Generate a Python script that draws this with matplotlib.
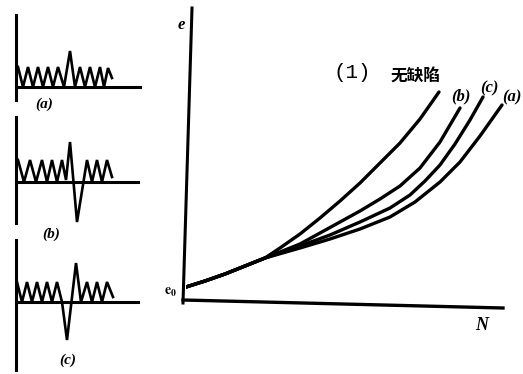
import numpy as np
import matplotlib
matplotlib.use("Agg")
import matplotlib.pyplot as plt

plt.rcParams['font.family'] = ['Liberation Serif', 'DejaVu Sans']
plt.rcParams['mathtext.fontset'] = 'stix'

# main chart: e versus N, four growth curves from a shared start e0
common_n = [0.0, 1.9, 3.9, 5.9, 7.9]
common_e = [1.3, 1.9, 2.6, 3.4, 4.2]

perfect_n = [9.4, 11.4, 13.4, 15.4, 17.4, 19.4, 21.4, 23.4, 25.3]
perfect_e = [5.2, 6.6, 8.2, 9.9, 11.7, 13.7, 15.7, 18.1, 20.8]

b_n = [11.4, 13.4, 15.4, 17.4, 19.4, 21.4, 23.4, 25.4, 27.4]
b_e = [5.6, 6.7, 7.8, 8.9, 10.1, 11.4, 13.2, 15.8, 19.2]

c_n = [11.4, 14.4, 17.4, 20.4, 22.4, 23.9, 25.4, 26.9, 28.4, 29.7]
c_e = [5.4, 6.5, 7.8, 9.2, 10.5, 11.9, 13.5, 15.6, 18.0, 20.3]

a_n = [11.4, 14.4, 17.4, 20.4, 22.9, 25.4, 27.4, 29.4, 31.6]
a_e = [5.2, 6.1, 7.1, 8.3, 9.8, 11.8, 13.8, 16.4, 19.5]

curve_labels = ["无缺陷", "(b)", "(c)", "(a)"]

# left panels: potential profiles along the chain
pa_x = [0.2, 0.7, 1.2, 1.7, 2.2, 2.7, 3.2, 3.7, 4.2, 4.8, 5.4, 5.9, 6.4, 6.9, 7.4, 7.9, 8.4, 8.8, 9.2, 9.6]
pa_h = [2.0, 0.0, 2.0, 0.0, 2.0, 0.0, 2.0, 0.0, 2.0, 0.0, 3.6, 0.0, 2.0, 0.0, 2.0, 0.0, 2.0, 0.0, 1.9, 0.9]

pb_x = [0.2, 0.8, 1.4, 2.0, 2.6, 3.1, 3.6, 4.1, 4.6, 5.0, 5.4, 6.1, 7.1, 7.6, 8.1, 8.6, 9.1, 9.6, 10.1]
pb_h = [2.2, 0.0, 2.2, 0.0, 2.2, 0.0, 2.2, 0.0, 2.2, 0.2, 4.0, -4.0, 2.2, 0.0, 2.2, 0.0, 2.2, 0.0, 1.9]

pc_x = [0.1, 0.6, 1.1, 1.6, 2.1, 2.6, 3.1, 3.6, 4.1, 4.6, 5.1, 6.0, 6.5, 7.1, 7.6, 8.1, 8.6, 9.1, 9.7]
pc_h = [2.0, 0.0, 2.0, 0.0, 2.0, 0.0, 2.0, 0.0, 2.0, 0.0, -3.8, 3.9, 0.0, 2.0, 0.0, 2.0, 0.0, 2.0, 0.5]

pb_x = pb_x[:-2] + [9.1, 9.6]
pb_h = pb_h[:-2] + [2.2, 0.5]

W, H = 523, 374
fig = plt.figure(figsize=(W / 100, H / 100), dpi=100)


def px_box(left, top, right, bottom):
    return [left / W, 1 - bottom / H, (right - left) / W, (bottom - top) / H]


# ---- main axes ----
ax = fig.add_axes(px_box(186, 0, 523, 300))
ax.set_xlim(0, 33.7)
ax.set_ylim(0, 30)
ax.axis('off')

lw = 2.4
ax.plot([0.6, -0.3], [29.2, -0.3], color='black', lw=2.2, clip_on=False)
ax.plot([-0.3, 31.7], [0.0, -0.8], color='black', lw=2.4, clip_on=False)

for xs, ys in [(perfect_n, perfect_e), (b_n, b_e), (c_n, c_e), (a_n, a_e)]:
    ax.plot(np.concatenate([common_n, xs]), np.concatenate([common_e, ys]),
            color='black', lw=lw, solid_joinstyle='round', solid_capstyle='round')

ax.text(-0.5, 27.5, "e", fontsize=12, fontweight='bold', style='italic',
        ha='center', va='center')
ax.text(-1.5, 0.8, r"$\mathbf{e_0}$", fontsize=10, ha='center', va='center')
ax.text(29.6, -2.5, "N", fontsize=13, fontweight='bold', style='italic',
        ha='center', va='center', clip_on=False)
ax.text(16.6, 22.8, "(1)", fontsize=15, family='Liberation Mono',
        ha='center', va='center')
ax.text(22.9, 22.3, curve_labels[0], fontsize=12, fontweight='bold',
        family=['Noto Sans CJK SC', 'DejaVu Sans'], ha='center', va='center')
ax.text(27.5, 20.4, curve_labels[1], fontsize=12, fontweight='bold', style='italic',
        ha='center', va='center')
ax.text(30.3, 21.2, curve_labels[2], fontsize=12, fontweight='bold', style='italic',
        ha='center', va='center')
ax.text(32.6, 20.3, curve_labels[3], fontsize=12, fontweight='bold', style='italic',
        ha='center', va='center', clip_on=False)

# ---- left panels ----
panels = [
    (pa_x, pa_h, px_box(16, 15, 140, 100), (-1.3, 7.2), "(a)", (44, 104)),
    (pb_x, pb_h, px_box(16, 117, 138, 223), (-4.1, 6.5), "(b)", (51, 234)),
    (pc_x, pc_h, px_box(16, 240, 138, 370), (-6.8, 6.2), "(c)", (68, 360)),
]
for xs, hs, box, ylim, lab, (lx, ly) in panels:
    pax = fig.add_axes(box)
    width_units = box[2] * W / 10
    pax.set_xlim(0, width_units)
    pax.set_ylim(*ylim)
    pax.axis('off')
    pax.plot([0, 0], list(ylim), color='black', lw=2.2, clip_on=False)
    pax.plot([0, width_units], [0, 0], color='black', lw=2.2, clip_on=False)
    pax.plot(xs, hs, color='black', lw=1.9, solid_joinstyle='miter')
    fig.text(lx / W, 1 - ly / H, lab, fontsize=11, fontweight='bold', style='italic',
             ha='center', va='center')

fig.savefig("out.png", dpi=100)
